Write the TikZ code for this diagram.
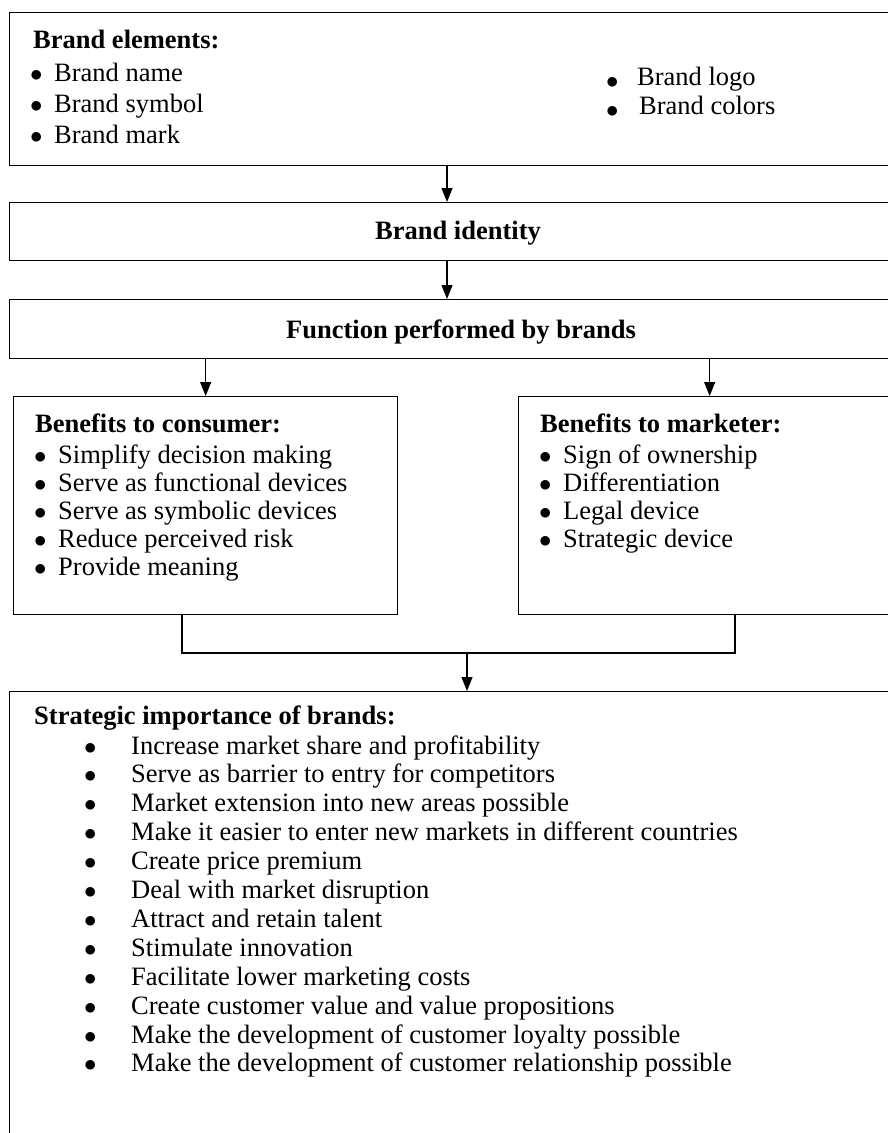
\documentclass[tikz,border=0pt]{standalone}
\usepackage{fontspec}
\setmainfont{Liberation Serif}
\usetikzlibrary{arrows.meta}

\tikzset{
  box/.style={draw, line width=1.3pt, anchor=north west, inner sep=0pt},
  txt/.style={anchor=base west, inner sep=0pt, font=\fontsize{26.5}{28}\selectfont},
  head/.style={txt, font=\fontsize{26.5}{28}\selectfont\bfseries},
  link/.style={line width=1.1pt, -{Triangle[length=14pt,width=11pt]}},
  joint/.style={line width=1.1pt},
}
\newcommand{\itm}[2][25pt]{\makebox[#1][l]{$\bullet$}#2}
\newcommand{\lowitm}[2][25pt]{\makebox[#1][l]{\raisebox{-3pt}{$\bullet$}}#2}

\begin{document}
\begin{tikzpicture}[x=1pt, y=-1pt]
    \useasboundingbox (0,0) rectangle (888,1133);

    % Kaesten
    \node[box, minimum width=891pt, minimum height=153pt] (elements) at (9,12) {};
    \node[box, minimum width=891pt, minimum height=58pt] (identity) at (9,202) {};
    \node[box, minimum width=891pt, minimum height=59pt] (function) at (9,299) {};
    \node[box, minimum width=384pt, minimum height=218pt] (consumer) at (13,396) {};
    \node[box, minimum width=382pt, minimum height=218pt] (marketer) at (518,396) {};
    \node[box, minimum width=891pt, minimum height=460pt] (strategic) at (9,691) {};

    % Brand elements
    \node[head] (elhead) at (33,48) {Brand elements:};
    \node[txt] (el1) at (30,81) {\itm[24pt]{Brand name}};
    \node[txt] (el2) at (30,112) {\itm[24pt]{Brand symbol}};
    \node[txt] (el3) at (30,143) {\itm[24pt]{Brand mark}};
    \node[txt] (el4) at (606,85) {\lowitm[31pt]{Brand logo}};
    \node[txt] (el5) at (606,114) {\lowitm[33pt]{Brand colors}};

    % Mitte
    \node[head, anchor=base] (idtext) at (458,239) {Brand identity};
    \node[head, anchor=base] (fntext) at (461,338) {Function performed by brands};

    % Benefits to consumer
    \node[head] (cohead) at (35,432) {Benefits to consumer:};
    \node[txt] (co1) at (34,463) {\itm[24pt]{Simplify decision making}};
    \node[txt] (co2) at (34,491) {\itm[24pt]{Serve as functional devices}};
    \node[txt] (co3) at (34,519) {\itm[24pt]{Serve as symbolic devices}};
    \node[txt] (co4) at (34,547) {\itm[24pt]{Reduce perceived risk}};
    \node[txt] (co5) at (34,575) {\itm[24pt]{Provide meaning}};

    % Benefits to marketer
    \node[head] (mahead) at (540,432) {Benefits to marketer:};
    \node[txt] (ma1) at (539,463) {\itm[24pt]{Sign of ownership}};
    \node[txt] (ma2) at (539,491) {\itm[24pt]{Differentiation}};
    \node[txt] (ma3) at (539,519) {\itm[24pt]{Legal device}};
    \node[txt] (ma4) at (539,547) {\itm[24pt]{Strategic device}};

    % Strategic importance
    \node[head] (sthead) at (34,724) {Strategic importance of brands:};
    \foreach \t [count=\i from 0] in {Increase market share and profitability,
        Serve as barrier to entry for competitors,
        Market extension into new areas possible,
        Make it easier to enter new markets in different countries,
        Create price premium,
        Deal with market disruption,
        Attract and retain talent,
        Stimulate innovation,
        Facilitate lower marketing costs,
        Create customer value and value propositions,
        Make the development of customer loyalty possible,
        Make the development of customer relationship possible}
      \node[txt] (st\i) at (84,754+28.9*\i) {\itm[47pt]{\t}};

    % Pfeile
    \coordinate (mid) at (447,0);
    \draw[link] (elements.south -| mid) -- (identity.north -| mid);
    \draw[link] (identity.south -| mid) -- (function.north -| mid);
    \draw[link] (function.south -| consumer.north) -- (consumer.north);
    \draw[link] (function.south -| marketer.north) -- (marketer.north);

    % Zusammenfuehrung
    \coordinate (cl) at (182,0);
    \coordinate (cr) at (735,0);
    \coordinate (join) at (467,653);
    \draw[joint] (consumer.south -| cl) |- (join) -| (marketer.south -| cr);
    \draw[link] (join) -- (strategic.north -| join);
\end{tikzpicture}
\end{document}
